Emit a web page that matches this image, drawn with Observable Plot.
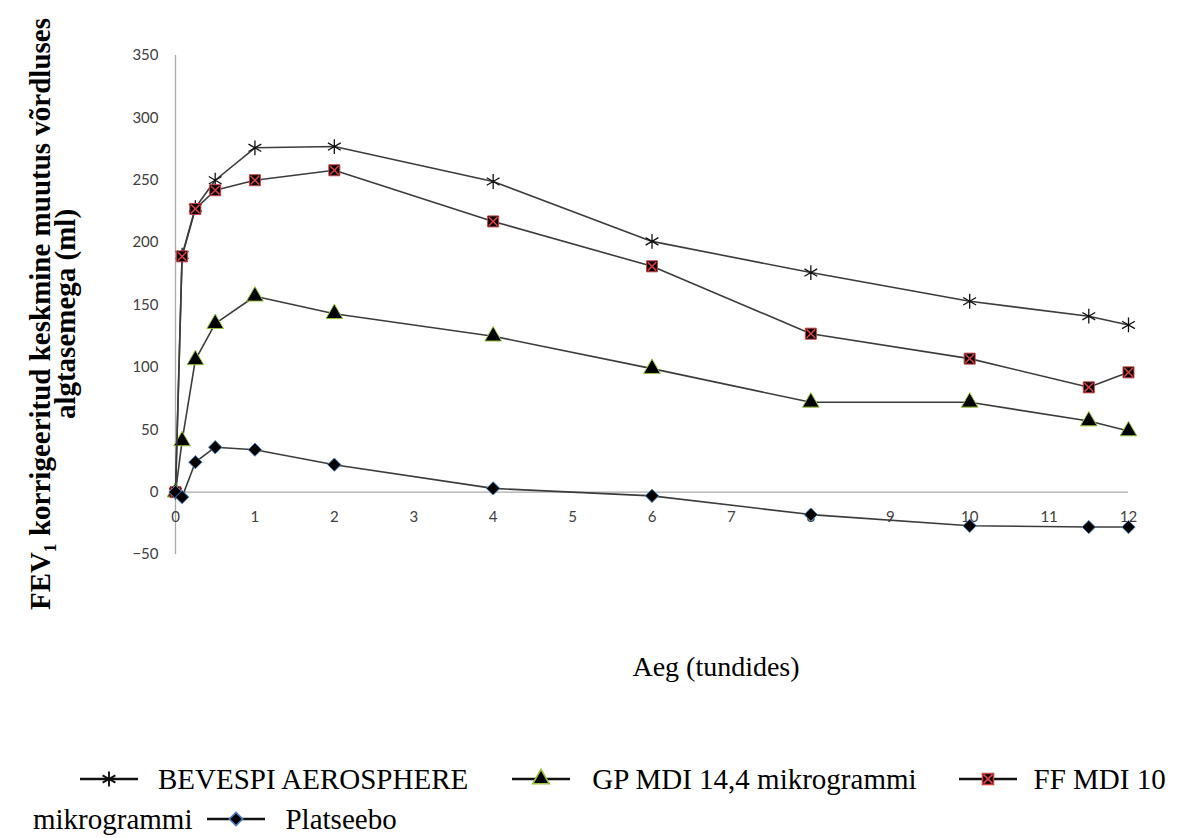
<!DOCTYPE html>
<html>
<head>
<meta charset="utf-8">
<script src="https://cdn.jsdelivr.net/npm/d3@7"></script>
<script src="https://cdn.jsdelivr.net/npm/@observablehq/plot@0.6"></script>
<style>
  html, body { margin: 0; padding: 0; background: #fff; }
  #wrap { position: relative; width: 1180px; height: 838px; overflow: hidden; }
  #legend { position: absolute; left: 0; top: 740px; width: 1180px; height: 98px;
            font-family: "Liberation Serif", "Times New Roman", serif; font-size: 29px; color: #000; }
  .lrow { position: absolute; display: flex; align-items: center; white-space: nowrap; height: 34px; }
  .lrow svg { display: block; }
</style>
</head>
<body>
<div id="wrap">
  <div id="chart"></div>
  <div id="legend"></div>
</div>
<script>
// ---- data ----
const hours = [0, 0.083, 0.25, 0.5, 1, 2, 4, 6, 8, 10, 11.5, 12];
const seriesNames = ["BEVESPI AEROSPHERE", "GP MDI 14,4 mikrogrammi", "FF MDI 10 mikrogrammi", "Platseebo"];
const bevespi = [0, 190, 228, 250, 276, 277, 249, 201, 176, 153, 141, 134];
const gpMdi   = [0, 41, 106, 135, 157, 143, 125, 99, 72, 72, 57, 49];
const ffMdi   = [0, 189, 227, 242, 250, 258, 217, 181, 127, 107, 84, 96];
const placebo = [0, -4, 24, 36, 34, 22, 3, -3, -18, -27, -28, -28];
const xTicks = [0, 1, 2, 3, 4, 5, 6, 7, 8, 9, 10, 11, 12];
const yTicks = [-50, 0, 50, 100, 150, 200, 250, 300, 350];
const yLabel = "FEV₁ korrigeeritud keskmine muutus võrdluses\nalgtasemega (ml)";
const xLabel = "Aeg (tundides)";

const seriesValues = [bevespi, gpMdi, ffMdi, placebo];
const styles = [
  {symbol: "asterisk", r: 7, fill: "none", stroke: "#111", strokeWidth: 1.3},
  {symbol: "triangle", r: 6.2, fill: "#000", stroke: "#9ac43c", strokeWidth: 1},
  {symbol: "square", r: 6.2, fill: "#000", stroke: "#d04040", strokeWidth: 1},
  {symbol: "diamond2", r: 6, fill: "#000", stroke: "#4a7ec0", strokeWidth: 1}
];

const rows = seriesNames.flatMap((name, k) =>
  hours.map((h, i) => ({hour: h, value: seriesValues[k][i], series: name})));

const lineColor = "#3c3c3c";
const marks = [
  Plot.ruleY([0], {x1: 0, x2: 12, stroke: "#a8a8a8", strokeWidth: 1.3}),
  Plot.ruleX([0], {y1: -50, y2: 350, stroke: "#a8a8a8", strokeWidth: 1.3}),
  Plot.axisY(yTicks, {tickSize: 0, tickPadding: 17, fontSize: 15, fill: "#404040", label: null}),
  Plot.text(xTicks, {x: d => d, y: 0, dy: 25, text: d => String(d), fontSize: 15, fill: "#404040", fontFamily: "Lato"}),
  Plot.text([yLabel], {frameAnchor: "left", dx: -121, dy: 9, rotate: -90, text: d => d,
    fontFamily: "Liberation Serif", fontWeight: "bold", fontSize: 29, lineHeight: 0.86,
    textAnchor: "middle", lineAnchor: "middle", fill: "#000"}),
  Plot.text([xLabel], {frameAnchor: "bottom", dy: 121, dx: 64, text: d => d,
    fontFamily: "Liberation Serif", fontSize: 28, textAnchor: "middle", fill: "#000"})
];
seriesNames.forEach((name, k) => {
  const d = rows.filter(r => r.series === name);
  const s = styles[k];
  marks.push(Plot.line(d, {x: "hour", y: "value", stroke: lineColor, strokeWidth: 1.6}));
  marks.push(Plot.dot(d, {x: "hour", y: "value", symbol: () => s.symbol, r: s.r,
    fill: s.fill, stroke: s.stroke, strokeWidth: s.strokeWidth}));
  if (s.symbol === "square") {
    marks.push(Plot.dot(d, {x: "hour", y: "value", symbol: () => "times", r: 4, stroke: "#e04040", strokeWidth: 1.5}));
  }
});

const chart = Plot.plot({
  width: 1180,
  height: 740,
  marginLeft: 175,
  marginRight: 52,
  marginTop: 55,
  marginBottom: 186,
  style: {fontFamily: "Lato", fontSize: "15px", color: "#404040", background: "#fff"},
  x: {domain: [0, 12], axis: null},
  y: {domain: [-50, 350], axis: null},
  symbol: {type: "identity"},
  marks
});
document.getElementById("chart").appendChild(chart);

// ---- legend ----
function legendSymbol(k) {
  const s = styles[k];
  const w = 58, h = 26;
  const svg = d3.create("svg").attr("width", w).attr("height", h);
  svg.append("line").attr("x1", 0).attr("x2", w).attr("y1", h / 2).attr("y2", h / 2)
    .attr("stroke", "#111").attr("stroke-width", 2.4);
  const symMap = {asterisk: d3.symbolAsterisk, triangle: d3.symbolTriangle, square: d3.symbolSquare, diamond2: d3.symbolDiamond2};
  const size = s.r * s.r * Math.PI;
  svg.append("path").attr("transform", `translate(${w / 2},${h / 2})`)
    .attr("d", d3.symbol(symMap[s.symbol], size)())
    .attr("fill", s.fill).attr("stroke", s.stroke).attr("stroke-width", s.strokeWidth + 0.6);
  if (s.symbol === "square") {
    svg.append("path").attr("transform", `translate(${w / 2},${h / 2})`)
      .attr("d", d3.symbol(d3.symbolTimes, 16 * Math.PI)())
      .attr("fill", "none").attr("stroke", "#e04040").attr("stroke-width", 1.8);
  }
  return svg.node();
}
const legend = d3.select("#legend");
const addItem = (row, k, text, gapBefore, gapAfter) => {
  row.append("span").style("width", gapBefore + "px").style("display", "inline-block");
  row.node().appendChild(legendSymbol(k));
  row.append("span").style("margin-left", gapAfter + "px").text(text);
};
const row1 = legend.append("div").attr("class", "lrow").style("left", "80px").style("top", "22px");
addItem(row1, 0, seriesNames[0], 0, 20);
addItem(row1, 1, seriesNames[1], 44, 22);
addItem(row1, 2, "FF MDI 10", 42, 17);
const row2 = legend.append("div").attr("class", "lrow").style("left", "33px").style("top", "62px");
row2.append("span").text("mikrogrammi");
addItem(row2, 3, seriesNames[3], 15, 20);
</script>
</body>
</html>
